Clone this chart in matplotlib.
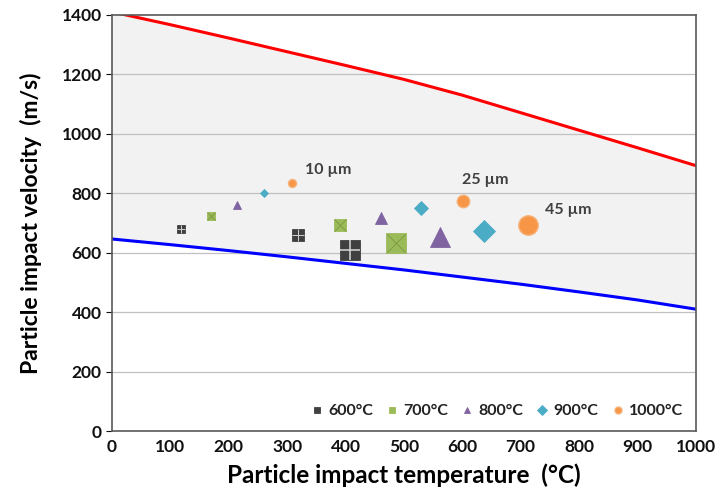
import matplotlib
matplotlib.use("Agg")
import matplotlib.pyplot as plt
import numpy as np

plt.rcParams['font.family'] = ['Lato', 'DejaVu Sans']
plt.rcParams['font.weight'] = 'bold'

# Window boundaries
bound_T = [0, 100, 200, 300, 400, 500, 600, 700, 800, 900, 1000]
upper_v = [1410, 1367, 1322, 1276, 1230, 1183, 1130, 1071, 1012, 953, 893]
lower_v = [646, 627, 607, 586, 564, 542, 518, 494, 468, 441, 410]

# Particle data: groups (gas temperature), three particle sizes each
groups = ['600°C', '700°C', '800°C', '900°C', '1000°C']
temps = {
    '600°C': [119, 318, 408],
    '700°C': [169, 390, 487],
    '800°C': [214, 460, 562],
    '900°C': [261, 530, 637],
    '1000°C': [309, 601, 712],
}
vels = {
    '600°C': [680, 660, 609],
    '700°C': [723, 693, 632],
    '800°C': [761, 718, 652],
    '900°C': [800, 749, 673],
    '1000°C': [834, 775, 692],
}
size_labels = ['10 µm', '25 µm', '45 µm']
size_label_pos = [(330, 878), (600, 845), (742, 745)]

colors = {'600°C': '#404040', '700°C': '#9bbb59', '800°C': '#8064a2',
          '900°C': '#4bacc6', '1000°C': '#f79646'}
markers = {'600°C': 's', '700°C': 's', '800°C': '^', '900°C': 'D', '1000°C': 'o'}
msizes = {'600°C': [5.5, 8.5, 14], '700°C': [5.5, 9, 14], '800°C': [6, 9, 15],
          '900°C': [4.5, 7, 11], '1000°C': [5.8, 9, 14]}

fig = plt.figure(figsize=(7.18, 4.96), dpi=100)
ax = fig.add_axes([0.156, 0.131, 0.813, 0.839])

ax.fill_between(bound_T, lower_v, upper_v, color='#f2f2f2', zorder=0)
for y in range(200, 1400, 200):
    ax.axhline(y, color='#c0c0c0', lw=0.9, zorder=0.5)
ax.plot(bound_T, upper_v, color='#ff0000', lw=2.2, zorder=2)
ax.plot(bound_T, lower_v, color='#0000ff', lw=2.2, zorder=2)

for g in groups:
    c = colors[g]
    m = markers[g]
    for i, (t, v) in enumerate(zip(temps[g], vels[g])):
        ms = msizes[g][i]
        lab = g if i == 0 else None
        ax.plot([t], [v], linestyle='none', marker=m, markersize=ms, color=c,
                markeredgecolor=c if g != '1000°C' else '#f5b27a',
                markeredgewidth=0.6 if g != '1000°C' else 1.0,
                label=lab, zorder=3)
        if g == '600°C':
            ax.plot([t], [v], linestyle='none', marker='+', markersize=ms,
                    color='#d0d0d0', markeredgewidth=max(0.7, ms / 12), zorder=4)
        if g == '700°C':
            ax.plot([t], [v], linestyle='none', marker='x', markersize=ms * 0.95,
                    color='#7f9a45', markeredgewidth=0.7, zorder=4)

for lab, (x, y) in zip(size_labels, size_label_pos):
    ax.text(x, y, lab, fontsize=11.5, fontweight='bold', color='#404040',
            ha='left', va='center')

ax.set_xlim(0, 1000)
ax.set_ylim(0, 1400)
ax.set_xticks(np.arange(0, 1001, 100))
ax.set_yticks(np.arange(0, 1401, 200))
ax.tick_params(axis='both', labelsize=12.5, colors='#111111', length=4,
               width=0.8, direction='out')
ax.tick_params(axis='x', length=0, pad=6)
for lbl in ax.get_xticklabels() + ax.get_yticklabels():
    lbl.set_fontweight('bold')
for s in ax.spines.values():
    s.set_color('#595959')
    s.set_linewidth(1.2)

ax.set_xlabel('Particle impact temperature  (°C)', fontsize=17.5, fontweight='bold',
              labelpad=6)
ax.set_ylabel('Particle impact velocity  (m/s)', fontsize=16.5, fontweight='bold',
              labelpad=14)

leg = ax.legend(loc='lower right', ncol=5, frameon=False, fontsize=11.5,
                handletextpad=0.2, columnspacing=0.7,
                handlelength=1.0, borderaxespad=0.4)
for h in leg.legend_handles:
    h.set_markersize(5)
for t in leg.get_texts():
    t.set_fontweight('bold')
    t.set_color('#222222')

fig.savefig('out.png', dpi=100)
